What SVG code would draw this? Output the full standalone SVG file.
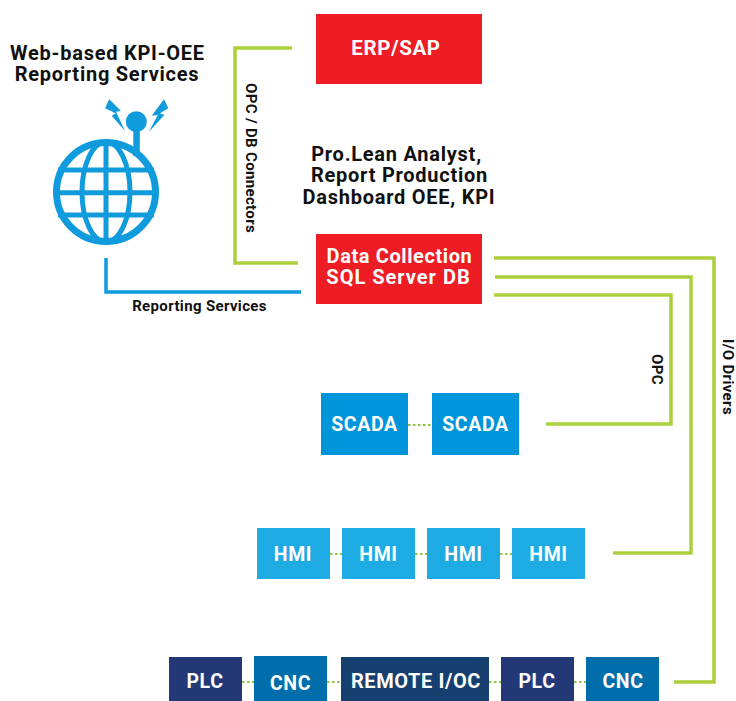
<svg xmlns="http://www.w3.org/2000/svg" width="736" height="701" viewBox="0 0 736 701">
<style>
text{font-family:"Roboto","Liberation Sans",sans-serif;font-weight:700}
.n{fill:#fff;font-size:19.500px;text-anchor:middle;letter-spacing:.6px}
.h{fill:#111;font-size:20px;text-anchor:middle;letter-spacing:.75px}
.l{fill:#111;font-size:15px;text-anchor:middle;letter-spacing:.35px}
.g{fill:none;stroke:#acd03c;stroke-width:3.5}
.d{fill:none;stroke:#8cc63f;stroke-width:2;stroke-dasharray:2.5 2.5}
.red{fill:#ee1c25}.sc{fill:#0095da}.hm{fill:#1eaae2}.pl{fill:#233876}.cn{fill:#006eab}.re{fill:#15406f}
.w{fill:none;stroke:#0f9bdc;stroke-width:5}
.ring{fill:none;stroke:#0f9bdc;stroke-width:7}
</style>
<g id="connectors">
<path class="g" d="M292 48H235V263H298"/>
<path class="g" d="M494 258H714V682H674"/>
<path class="g" d="M495 277H691V553H613"/>
<path class="g" d="M494 295H671V424H546"/>
<path d="M106 258V292H301" fill="none" stroke="#0f9bdc" stroke-width="3.5"/>
<path class="d" d="M408 425H432M330 554H342M415 554H427M500 554H512M242 682H254M327 682H341M489 682H501M574 682H586"/>
</g>
<g id="web-reporting">
<text class="h" x="107.500" y="60">Web-based KPI-OEE</text>
<text class="h" x="107" y="81">Reporting Services</text>
<circle cx="136.300" cy="121.700" r="10.500" fill="#0f9bdc"/>
<rect x="133.300" y="122" width="6.500" height="34" fill="#0f9bdc"/>
<circle class="ring" cx="106" cy="192" r="49.500"/>
<ellipse class="w" cx="106" cy="192" rx="24" ry="50"/>
<path class="w" d="M106 142V242M58 170H154M56 192.700H156M58 215H154"/>
<path fill="#0f9bdc" d="M109.300 99.300L121 111L116 111.700L125 131L111.700 115.700L115.700 113.300L105 108.300ZM164 99.300L151.700 115.700L157.700 115L149 131.700L164.300 115L160 113.300L168.300 108.300Z"/>
</g>
<g id="erp"><rect class="red" x="316" y="14" width="166" height="70"/><text class="n" x="396" y="55" style="font-size:20.500px">ERP/SAP</text></g>
<g id="analyst"><text class="h" x="396.500" y="160.500">Pro.Lean Analyst,</text><text class="h" x="399.500" y="182">Report Production</text><text class="h" x="399" y="204">Dashboard OEE, KPI</text></g>
<g id="data-collection"><rect class="red" x="316" y="234" width="166" height="70"/><text class="n" x="399.500" y="263" style="font-size:20px">Data Collection</text><text class="n" x="398.500" y="284" style="font-size:20px;letter-spacing:1px">SQL Server DB</text></g>
<g id="scada1"><rect class="sc" x="321" y="393" width="87" height="62"/><text class="n" x="364.500" y="430.500">SCADA</text></g>
<g id="scada2"><rect class="sc" x="432" y="393" width="87" height="62"/><text class="n" x="475.500" y="430.500">SCADA</text></g>
<g id="hmi1"><rect class="hm" x="257" y="528" width="73" height="51"/><text class="n" x="293" y="561">HMI</text></g>
<g id="hmi2"><rect class="hm" x="342" y="528" width="73" height="51"/><text class="n" x="378.500" y="561">HMI</text></g>
<g id="hmi3"><rect class="hm" x="427" y="528" width="73" height="51"/><text class="n" x="463.500" y="561">HMI</text></g>
<g id="hmi4"><rect class="hm" x="512" y="528" width="73" height="51"/><text class="n" x="548.500" y="561">HMI</text></g>
<g id="plc1"><rect class="pl" x="169" y="657" width="73" height="44"/><text class="n" x="205" y="688">PLC</text></g>
<g id="cnc1"><rect class="cn" x="254" y="656" width="73" height="45"/><text class="n" x="290.500" y="690">CNC</text></g>
<g id="remote"><rect class="re" x="341" y="657" width="148" height="44"/><text class="n" x="416" y="688" style="font-size:20px">REMOTE I/OC</text></g>
<g id="plc2"><rect class="pl" x="501" y="657" width="73" height="44"/><text class="n" x="537" y="688">PLC</text></g>
<g id="cnc2"><rect class="cn" x="586" y="657" width="73" height="44"/><text class="n" x="623" y="688">CNC</text></g>
<g id="labels">
<text class="l" x="199.500" y="311">Reporting Services</text>
<text class="l" transform="translate(246 158) rotate(90)">OPC / DB Connectors</text>
<text class="l" transform="translate(652 369.500) rotate(90)">OPC</text>
<text class="l" transform="translate(723 377) rotate(90)">I/O Drivers</text>
</g>
</svg>
